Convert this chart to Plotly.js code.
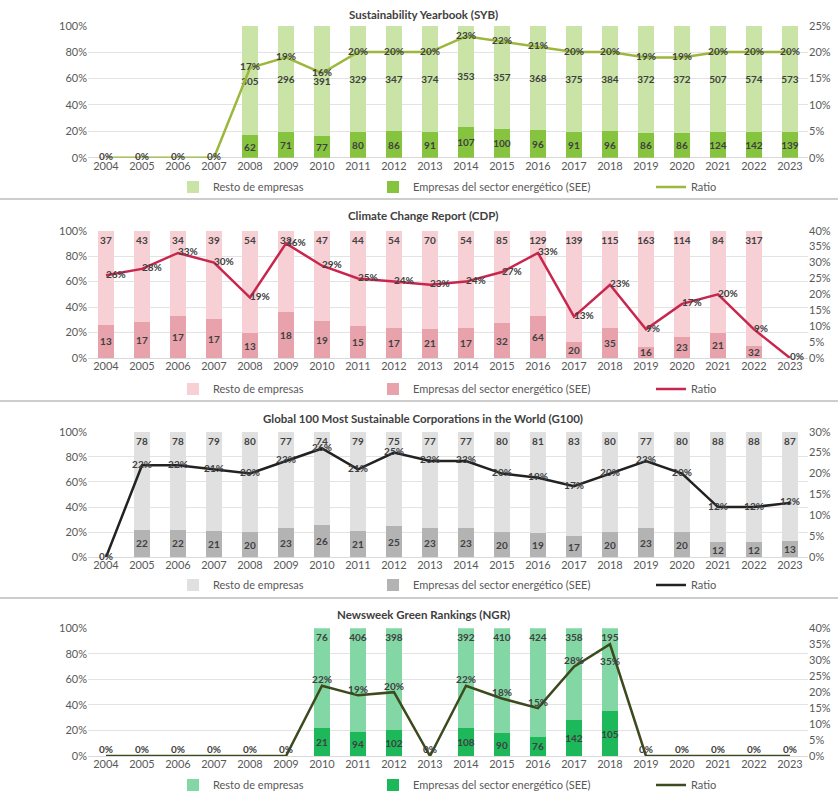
<!DOCTYPE html>
<html>
<head>
<meta charset="utf-8">
<script src="https://cdn.plot.ly/plotly-3.0.1.min.js"></script>
<style>html,body{margin:0;padding:0;background:#fff;}#chart{width:838px;height:793px;}</style>
</head>
<body>
<div id="chart"></div>
<script>
const years = ['2004','2005','2006','2007','2008','2009','2010','2011','2012','2013','2014','2015','2016','2017','2018','2019','2020','2021','2022','2023'];

// Sustainability Yearbook (SYB)
const sybRest  = [0,0,0,0,305,296,391,329,347,374,353,357,368,375,384,372,372,507,574,573];
const sybSEE   = [0,0,0,0,62,71,77,80,86,91,107,100,96,91,96,86,86,124,142,139];
const sybRatio = [0,0,0,0,17,19,16,20,20,20,23,22,21,20,20,19,19,20,20,20];

// Climate Change Report (CDP)
const cdpRest  = [37,43,34,39,54,32,47,44,54,70,54,85,129,139,115,163,114,84,317,0];
const cdpSEE   = [13,17,17,17,13,18,19,15,17,21,17,32,64,20,35,16,23,21,32,0];
const cdpRatio = [26,28,33,30,19,36,29,25,24,23,24,27,33,13,23,9,17,20,9,0];

// Global 100 Most Sustainable Corporations in the World (G100)
const g100Rest  = [0,78,78,79,80,77,74,79,75,77,77,80,81,83,80,77,80,88,88,87];
const g100SEE   = [0,22,22,21,20,23,26,21,25,23,23,20,19,17,20,23,20,12,12,13];
const g100Ratio = [0,22,22,21,20,23,26,21,25,23,23,20,19,17,20,23,20,12,12,13];

// Newsweek Green Rankings (NGR)
const ngrRest  = [0,0,0,0,0,0,76,406,398,0,392,410,424,358,195,0,0,0,0,0];
const ngrSEE   = [0,0,0,0,0,0,21,94,102,0,108,90,76,142,105,0,0,0,0,0];
const ngrRatio = [0,0,0,0,0,0,22,19,20,0,22,18,15,28,35,0,0,0,0,0];

const titles = ['Sustainability Yearbook (SYB)','Climate Change Report (CDP)','Global 100 Most Sustainable Corporations in the World (G100)','Newsweek Green Rankings (NGR)'];
const legendNames = ['Resto de empresas','Empresas del sector energético (SEE)','Ratio'];

const W = 838, H = 793, L = 88, R = 30;
const px = x => (x - L) / (W - L - R);
const py = y => 1 - y / H;

const FONT = 'Lato, "Open Sans", sans-serif';
const TXT = '#404040';

const ngrPos = years.map(y => (y === '2018' ? 'bottom center' : 'top center'));
const ngrLabelPrefix = years.map(y => (y === '2018' ? '<br>' : ''));

const panels = [
  {rest: sybRest, see: sybSEE, ratio: sybRatio, cRest:'#c9e4a6', cSee:'#86c440', cLine:'#9cb83c', rmax:25, rdt:5,
   restAnchor:'middle', ratioPos:'middle center', top:25.7, bottom:157.7, title:14.5, leg:187},
  {rest: cdpRest, see: cdpSEE, ratio: cdpRatio, cRest:'#f6d0d5', cSee:'#e7a2ab', cLine:'#c8264f', rmax:40, rdt:5,
   restAnchor:'end', ratioPos:'middle right', top:230.7, bottom:358, title:215, leg:389},
  {rest: g100Rest, see: g100SEE, ratio: g100Ratio, cRest:'#e0e0e0', cSee:'#b3b3b3', cLine:'#222222', rmax:30, rdt:5,
   restAnchor:'end', ratioPos:'middle center', top:431.7, bottom:557.3, title:418, leg:585},
  {rest: ngrRest, see: ngrSEE, ratio: ngrRatio, cRest:'#82d7a4', cSee:'#1db85a', cLine:'#3d4a1e', rmax:40, rdt:5,
   restAnchor:'end', ratioPos: ngrPos, prefix: ngrLabelPrefix, top:628.3, bottom:756, title:614, leg:785}
];

const data = [];
const layout = {
  width: W, height: H,
  margin: {l: L, r: R, t: 0, b: 0, autoexpand: false},
  paper_bgcolor: '#ffffff', plot_bgcolor: '#ffffff',
  barmode: 'stack', barnorm: 'percent', bargap: 0.58,
  showlegend: true,
  font: {family: FONT, size: 11, color: '#595959'},
  annotations: [], shapes: []
};

let legendIdx = 1;
panels.forEach((p, i) => {
  const n = i + 1;
  const xa = n === 1 ? 'x' : 'x' + n;
  const yl = (2*n-1) === 1 ? 'y' : 'y' + (2*n-1);
  const yr = 'y' + (2*n);
  const legs = [];
  const legX = [173, 373, 651];
  for (let k = 0; k < 3; k++) {
    const name = legendIdx === 1 ? 'legend' : 'legend' + legendIdx;
    legs.push(name);
    layout[name] = {
      visible: true,
      orientation: 'h', x: px(legX[k]), y: py(p.leg), xanchor: 'left', yanchor: 'middle',
      bgcolor: 'rgba(0,0,0,0)', font: {family: FONT, size: 11, color: '#595959'},
      itemwidth: 30, tracegroupgap: 0
    };
    legendIdx++;
  }
  data.push({
    type: 'bar', x: years, y: p.see, name: legendNames[1], xaxis: xa, yaxis: yl,
    marker: {color: p.cSee}, text: p.see.map(String), texttemplate: '%{text}',
    textposition: 'inside', insidetextanchor: 'middle', textangle: 0, constraintext: 'none',
    textfont: {family: FONT, size: 10, color: TXT, weight: 'bold'},
    legend: legs[1], showlegend: true, hoverinfo: 'skip'
  });
  data.push({
    type: 'bar', x: years, y: p.rest, name: legendNames[0], xaxis: xa, yaxis: yl,
    marker: {color: p.cRest}, text: p.rest.map(String), texttemplate: '%{text}',
    textposition: 'inside', insidetextanchor: p.restAnchor, textangle: 0, constraintext: 'none',
    textfont: {family: FONT, size: 10, color: TXT, weight: 'bold'},
    legend: legs[0], showlegend: true, hoverinfo: 'skip'
  });
  data.push({
    type: 'scatter', mode: 'lines+text', x: years, y: p.ratio, name: legendNames[2],
    xaxis: xa, yaxis: yr, line: {color: p.cLine, width: 2.5},
    text: p.ratio.map((v, j) => (p.prefix ? p.prefix[j] : '') + v + '%'),
    textposition: p.ratioPos, cliponaxis: false,
    textfont: {family: FONT, size: 10, color: TXT, weight: 'bold'},
    legend: legs[2], showlegend: true, hoverinfo: 'skip'
  });

  const dom = [py(p.bottom), py(p.top)];
  layout[n === 1 ? 'xaxis' : 'xaxis' + n] = {
    type: 'category', anchor: yl, domain: [0, 1], range: [-0.5, 19.5],
    showgrid: false, zeroline: false, showline: false, ticks: '',
    tickfont: {family: FONT, size: 11, color: '#595959'}, fixedrange: true
  };
  layout[(2*n-1) === 1 ? 'yaxis' : 'yaxis' + (2*n-1)] = {
    domain: dom, anchor: xa, range: [0, 100], dtick: 20, ticksuffix: '%',
    showgrid: true, gridcolor: '#e3e3e3', gridwidth: 1, zeroline: true, zerolinecolor: '#d9d9d9',
    showline: false, ticks: '', tickfont: {family: FONT, size: 11, color: '#595959'}, fixedrange: true
  };
  layout['yaxis' + (2*n)] = {
    domain: dom, anchor: xa, overlaying: yl, side: 'right', range: [0, p.rmax], dtick: p.rdt,
    ticksuffix: '%', showgrid: false, zeroline: false, showline: false, ticks: '',
    tickfont: {family: FONT, size: 11, color: '#595959'}, fixedrange: true
  };
  layout.annotations.push({
    xref: 'paper', yref: 'paper', x: px(423), y: py(p.title), xanchor: 'center', yanchor: 'middle',
    text: '<b>' + titles[i] + '</b>', showarrow: false,
    font: {family: FONT, size: 11.5, color: '#404040'}
  });
});

[199, 401, 598].forEach(yy => {
  layout.shapes.push({
    type: 'line', xref: 'paper', yref: 'paper', x0: px(0), x1: px(W), y0: py(yy), y1: py(yy),
    line: {color: '#bdbdbd', width: 1.5}
  });
});

Plotly.newPlot('chart', data, layout, {displayModeBar: false, staticPlot: true});
</script>
</body>
</html>
